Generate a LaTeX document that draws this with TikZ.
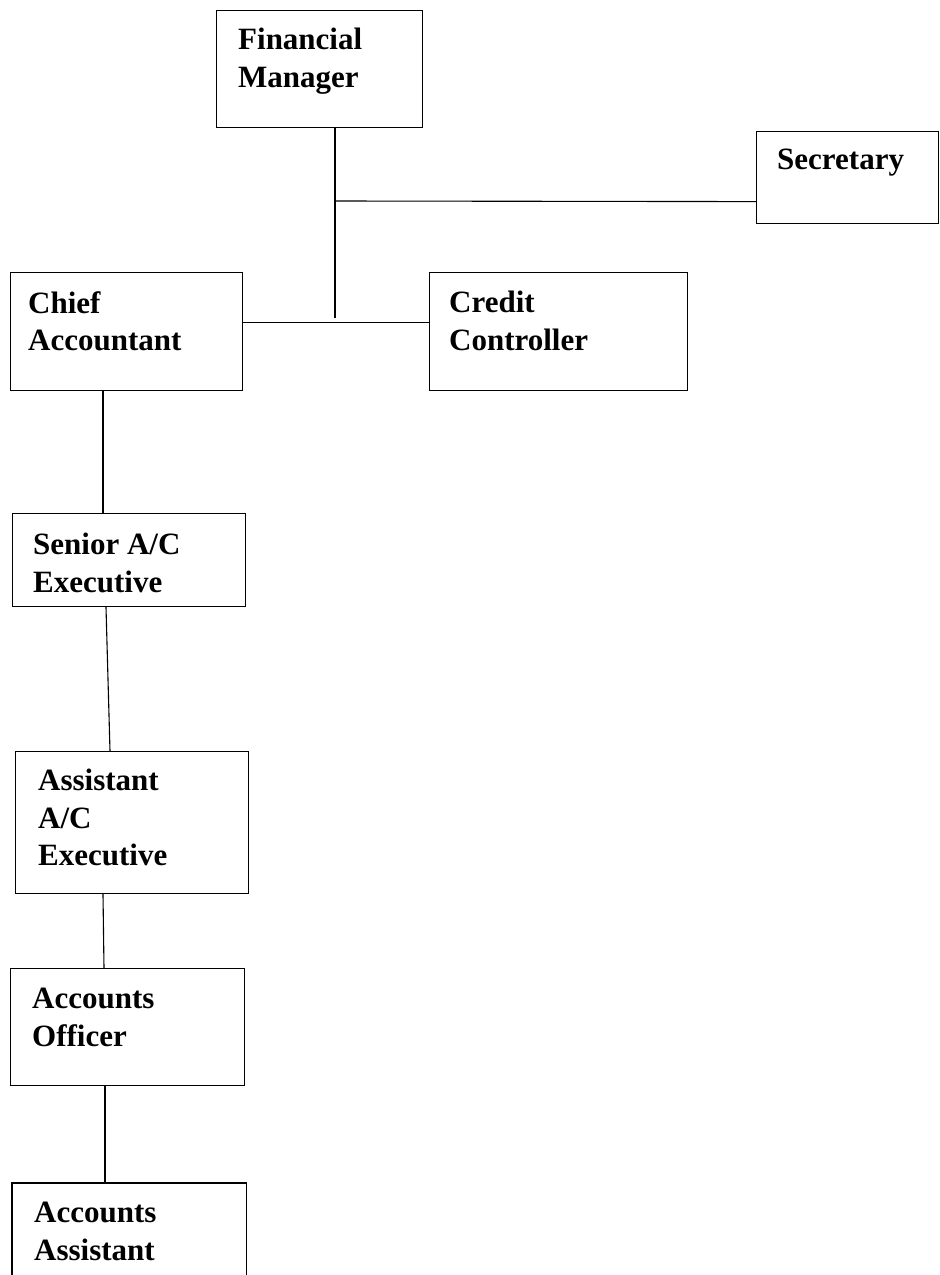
\documentclass[tikz,border=0pt]{standalone}
\usepackage{fontspec}
\setmainfont{Liberation Serif}
\begin{document}
\begin{tikzpicture}[x=1pt,y=-1pt,
  box/.style={draw=black, line width=1.2pt, rectangle, inner sep=0pt, anchor=north west},
  openbox/.style={rectangle, inner sep=0pt, anchor=north west},
  lbl/.style={anchor=north west, align=left, inner sep=0pt, font=\bfseries\fontsize{31}{37.5}\selectfont},
  conn/.style={draw=black, line width=1.1pt}]
\useasboundingbox[fill=white] (0,0) rectangle (940,1275);
% boxes
\node[box, minimum width=206pt, minimum height=117pt] (fm) at (216,10) {};
\node[box, minimum width=182pt, minimum height=92pt] (sec) at (756,131) {};
\node[box, minimum width=232pt, minimum height=118pt] (ca) at (10,272) {};
\node[box, minimum width=258pt, minimum height=118pt] (cc) at (429,272) {};
\node[box, minimum width=233pt, minimum height=93pt] (sae) at (12,513) {};
\node[box, minimum width=233pt, minimum height=142pt] (aae) at (15,751) {};
\node[box, minimum width=234pt, minimum height=117pt] (ao) at (10,968) {};
\node[openbox, minimum width=234pt, minimum height=92pt] (aa) at (12,1183) {};
\draw[conn] (aa.south west) -- (aa.north west) -- (aa.north east) -- (aa.south east);
% texts
\node[lbl] (fmt) at (238,28) {Financial\\Manager};
\node[lbl] (sect) at (777,149) {Secretary};
\node[lbl] (cat) at (28,291) {Chief\\Accountant};
\node[lbl] (cct) at (449,291) {Credit\\Controller};
\node[lbl] (saet) at (33,533) {Senior A/C\\Executive};
\node[lbl] (aaet) at (38,769) {Assistant\\A/C\\Executive};
\node[lbl] (aot) at (32,988) {Accounts\\Officer};
\node[lbl] (aat) at (34,1202) {Accounts\\Assistant};
% connectors
\coordinate (j1) at (335,201);
\coordinate (j2) at (335,318);
\draw[conn] ([xshift=119pt]fm.south west) -- (j2);
\draw[conn] (j1) -- ([yshift=-24pt]sec.west);
\draw[conn] ([yshift=9pt]ca.east) -- ([yshift=9pt]cc.west);
\draw[conn] ([xshift=93pt]ca.south west) -- ([xshift=91pt]sae.north west);
\draw[conn] ([xshift=94pt]sae.south west) -- ([xshift=95pt]aae.north west);
\draw[conn] ([xshift=88pt]aae.south west) -- ([xshift=94pt]ao.north west);
\draw[conn] ([xshift=95pt]ao.south west) -- ([xshift=93pt]aa.north west);
\end{tikzpicture}
\end{document}
